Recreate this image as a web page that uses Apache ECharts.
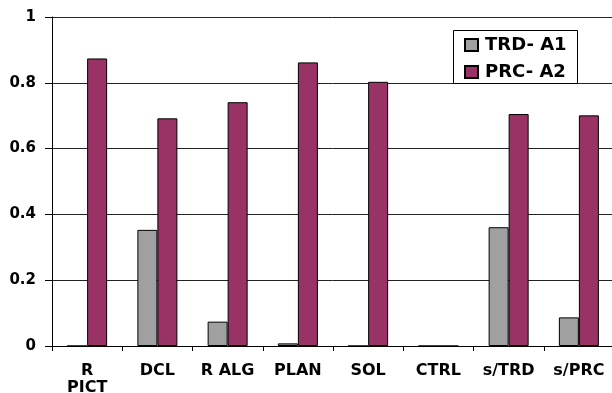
<!DOCTYPE html>
<html>
<head>
<meta charset="utf-8">
<script src="https://cdn.jsdelivr.net/npm/echarts@6/dist/echarts.min.js"></script>
<style>
html,body{margin:0;padding:0;background:#fff;}
#chart{width:612px;height:393px;}
</style>
</head>
<body>
<div id="chart"></div>
<script>
const categories = ['R\nPICT', 'DCL', 'R ALG', 'PLAN', 'SOL', 'CTRL', 's/TRD', 's/PRC'];
const trdA1 = [0, 0.353, 0.074, 0.008, 0, 0, 0.361, 0.087];
const prcA2 = [0.874, 0.692, 0.741, 0.862, 0.803, 0, 0.705, 0.701];
const seriesNames = ['TRD- A1', 'PRC- A2'];

const FONT = 'DejaVu Sans';
const chart = echarts.init(document.getElementById('chart'), null, {renderer: 'canvas'});
chart.setOption({
  animation: false,
  backgroundColor: '#ffffff',
  grid: {left: 52, top: 17, width: 562, height: 329, containLabel: false, outerBoundsMode: 'none'},
  xAxis: {
    type: 'category',
    data: categories,
    axisLine: {lineStyle: {color: '#000', width: 1}},
    axisTick: {show: true, length: 5, lineStyle: {color: '#000'}},
    axisLabel: {
      color: '#000', fontFamily: FONT, fontWeight: 'bold', fontSize: 16,
      lineHeight: 17, margin: 16, interval: 0
    },
    splitLine: {show: false}
  },
  yAxis: {
    type: 'value', min: 0, max: 1, interval: 0.2,
    axisLine: {show: true, lineStyle: {color: '#000', width: 1}},
    axisTick: {show: true, length: 7, lineStyle: {color: '#000'}},
    axisLabel: {color: '#000', fontFamily: FONT, fontWeight: 'bold', fontSize: 15, margin: 16},
    splitLine: {show: true, lineStyle: {color: '#222', width: 1}}
  },
  legend: {
    show: true,
    orient: 'vertical',
    left: 464, top: 36,
    padding: 0,
    itemGap: 9,
    itemWidth: 13, itemHeight: 12,
    icon: 'rect',
    z: 10,
    textStyle: {color: '#000', fontFamily: FONT, fontWeight: 'bold', fontSize: 18, lineHeight: 18, padding: [0, 0, 0, 2]},
    data: seriesNames
  },
  graphic: [{
    type: 'rect', z: 5,
    shape: {x: 453.5, y: 30.5, width: 124, height: 53},
    style: {fill: '#fff', stroke: '#000', lineWidth: 1}
  }],
  series: [
    {
      name: seriesNames[0], type: 'bar', data: trdA1,
      barWidth: 20, barGap: '0%',
      itemStyle: {color: '#a0a0a0', borderColor: '#000', borderWidth: 1}
    },
    {
      name: seriesNames[1], type: 'bar', data: prcA2,
      barWidth: 20, barGap: '0%',
      itemStyle: {color: '#993366', borderColor: '#000', borderWidth: 1}
    }
  ]
});
</script>
</body>
</html>
